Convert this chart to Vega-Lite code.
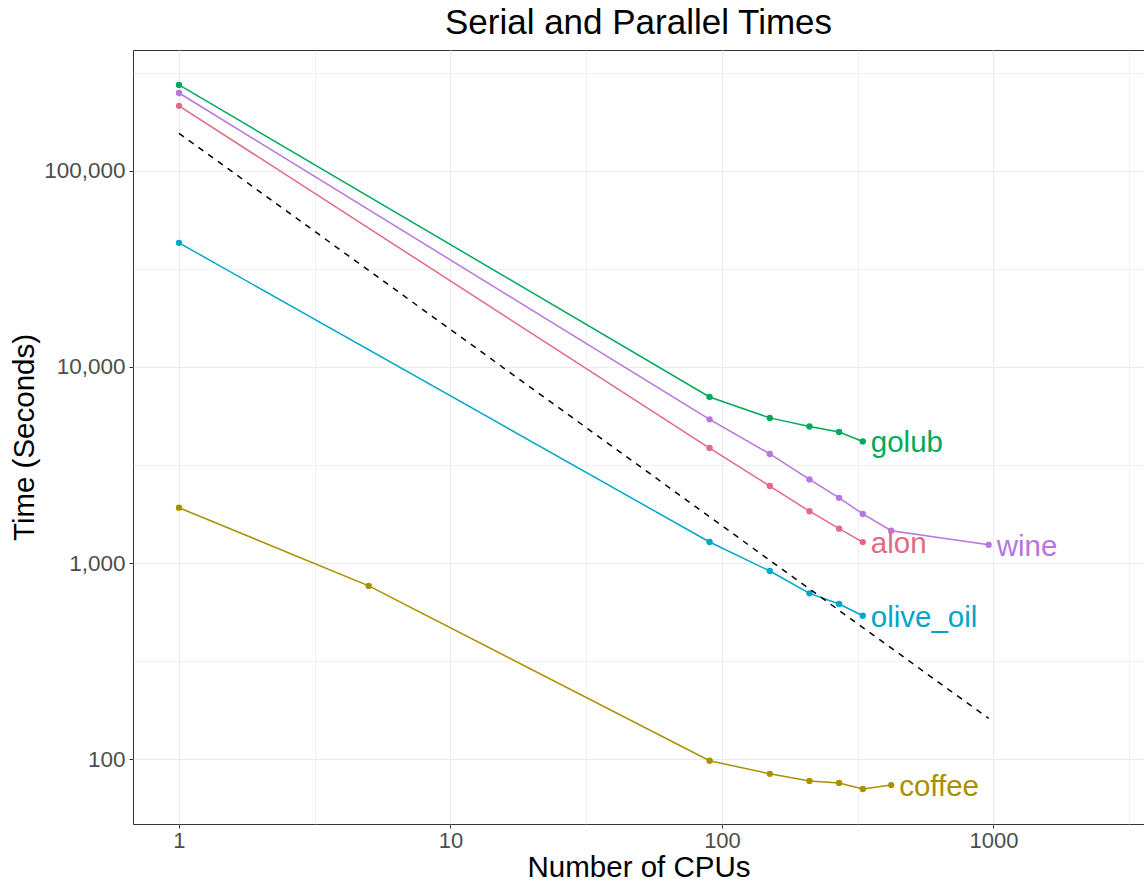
{
  "$schema": "https://vega.github.io/schema/vega-lite/v6.json",
  "width": 1011,
  "height": 774,
  "autosize": {"type": "none"},
  "padding": {"left": 133, "top": 50, "right": 0, "bottom": 59},
  "background": "white",
  "config": {
    "view": {"stroke": "#333333", "strokeWidth": 1},
    "font": "Liberation Sans"
  },
  "title": {
    "text": "Serial and Parallel Times",
    "fontSize": 35,
    "font": "Liberation Sans",
    "fontWeight": "normal",
    "color": "black",
    "anchor": "middle",
    "offset": 9
  },
  "datasets": {
    "times": [
      {"series": "golub", "cpus": 1, "time": 275000},
      {"series": "golub", "cpus": 90, "time": 7030},
      {"series": "golub", "cpus": 150, "time": 5500},
      {"series": "golub", "cpus": 210, "time": 4970},
      {"series": "golub", "cpus": 270, "time": 4660},
      {"series": "golub", "cpus": 330, "time": 4170},
      {"series": "wine", "cpus": 1, "time": 250000},
      {"series": "wine", "cpus": 90, "time": 5410},
      {"series": "wine", "cpus": 150, "time": 3600},
      {"series": "wine", "cpus": 210, "time": 2670},
      {"series": "wine", "cpus": 270, "time": 2150},
      {"series": "wine", "cpus": 330, "time": 1780},
      {"series": "wine", "cpus": 420, "time": 1462},
      {"series": "wine", "cpus": 960, "time": 1238},
      {"series": "alon", "cpus": 1, "time": 215000},
      {"series": "alon", "cpus": 90, "time": 3860},
      {"series": "alon", "cpus": 150, "time": 2470},
      {"series": "alon", "cpus": 210, "time": 1837},
      {"series": "alon", "cpus": 270, "time": 1497},
      {"series": "alon", "cpus": 330, "time": 1279},
      {"series": "olive_oil", "cpus": 1, "time": 43000},
      {"series": "olive_oil", "cpus": 90, "time": 1280},
      {"series": "olive_oil", "cpus": 150, "time": 910},
      {"series": "olive_oil", "cpus": 210, "time": 700},
      {"series": "olive_oil", "cpus": 270, "time": 618},
      {"series": "olive_oil", "cpus": 330, "time": 538},
      {"series": "coffee", "cpus": 1, "time": 1915},
      {"series": "coffee", "cpus": 5, "time": 764},
      {"series": "coffee", "cpus": 90, "time": 98},
      {"series": "coffee", "cpus": 150, "time": 84},
      {"series": "coffee", "cpus": 210, "time": 77.3},
      {"series": "coffee", "cpus": 270, "time": 75.5},
      {"series": "coffee", "cpus": 330, "time": 70.3},
      {"series": "coffee", "cpus": 420, "time": 73.6}
    ],
    "ideal": [
      {"cpus": 1, "time": 155700},
      {"cpus": 960, "time": 161}
    ]
  },
  "layer": [
    {
      "data": {"name": "times"},
      "mark": {"type": "line", "strokeWidth": 1.5},
      "encoding": {
        "x": {
          "field": "cpus",
          "type": "quantitative",
          "scale": {"type": "log", "domain": [0.677, 3584], "nice": false, "zero": false},
          "axis": {
            "title": "Number of CPUs",
            "titleFontSize": 29.5,
            "titleFontWeight": "normal",
            "titleColor": "black",
            "titlePadding": 2,
            "values": [1, 3.16228, 10, 31.6228, 100, 316.228, 1000, 3162.28],
            "labelExpr": "abs(log(datum.value)/LN10 - round(log(datum.value)/LN10)) < 0.01 ? format(datum.value, 'd') : ''",
            "labelFontSize": 22,
            "labelColor": "#4D4D4D",
            "labelPadding": 2,
            "labelFlush": false,
            "labelOverlap": false,
            "domain": false,
            "grid": true,
            "gridColor": "#EBEBEB",
            "gridWidth": {"condition": {"test": "abs(log(datum.value)/LN10 - round(log(datum.value)/LN10)) < 0.01", "value": 1.2}, "value": 0.7},
            "tickSize": 4,
            "tickWidth": 1,
            "tickColor": {"condition": {"test": "abs(log(datum.value)/LN10 - round(log(datum.value)/LN10)) < 0.01", "value": "#333333"}, "value": "rgba(0,0,0,0)"}
          }
        },
        "y": {
          "field": "time",
          "type": "quantitative",
          "scale": {"type": "log", "domain": [46.6, 414300], "nice": false, "zero": false},
          "axis": {
            "title": "Time (Seconds)",
            "titleFontSize": 29.5,
            "titleFontWeight": "normal",
            "titleColor": "black",
            "titlePadding": 4,
            "values": [100, 316.228, 1000, 3162.28, 10000, 31622.8, 100000, 316228],
            "labelExpr": "abs(log(datum.value)/LN10 - round(log(datum.value)/LN10)) < 0.01 ? format(datum.value, ',d') : ''",
            "labelFontSize": 22.5,
            "labelColor": "#4D4D4D",
            "labelPadding": 4,
            "labelFlush": false,
            "labelOverlap": false,
            "domain": false,
            "grid": true,
            "gridColor": "#EBEBEB",
            "gridWidth": {"condition": {"test": "abs(log(datum.value)/LN10 - round(log(datum.value)/LN10)) < 0.01", "value": 1.2}, "value": 0.7},
            "tickSize": 4,
            "tickWidth": 1,
            "tickColor": {"condition": {"test": "abs(log(datum.value)/LN10 - round(log(datum.value)/LN10)) < 0.01", "value": "#333333"}, "value": "rgba(0,0,0,0)"}
          }
        },
        "color": {
          "field": "series",
          "type": "nominal",
          "scale": {"domain": ["alon", "coffee", "golub", "olive_oil", "wine"], "range": ["#E16A86", "#AA9000", "#00AA5A", "#00A6CA", "#B675E0"]},
          "legend": null
        },
        "detail": {"field": "series"}
      }
    },
    {
      "data": {"name": "times"},
      "mark": {"type": "point", "filled": true, "size": 40, "opacity": 1},
      "encoding": {
        "x": {"field": "cpus", "type": "quantitative"},
        "y": {"field": "time", "type": "quantitative"},
        "color": {"field": "series", "type": "nominal", "legend": null}
      }
    },
    {
      "data": {"name": "times"},
      "transform": [
        {"joinaggregate": [{"op": "max", "field": "cpus", "as": "maxc"}], "groupby": ["series"]},
        {"filter": "datum.cpus == datum.maxc"}
      ],
      "mark": {"type": "text", "align": "left", "baseline": "middle", "dx": 8, "dy": 2, "fontSize": 29.5, "font": "Liberation Sans"},
      "encoding": {
        "x": {"field": "cpus", "type": "quantitative"},
        "y": {"field": "time", "type": "quantitative"},
        "text": {"field": "series"},
        "color": {"field": "series", "type": "nominal", "legend": null}
      }
    },
    {
      "data": {"name": "ideal"},
      "mark": {"type": "line", "color": "black", "strokeWidth": 1.5, "strokeDash": [6, 6]},
      "encoding": {
        "x": {"field": "cpus", "type": "quantitative"},
        "y": {"field": "time", "type": "quantitative"}
      }
    }
  ]
}
